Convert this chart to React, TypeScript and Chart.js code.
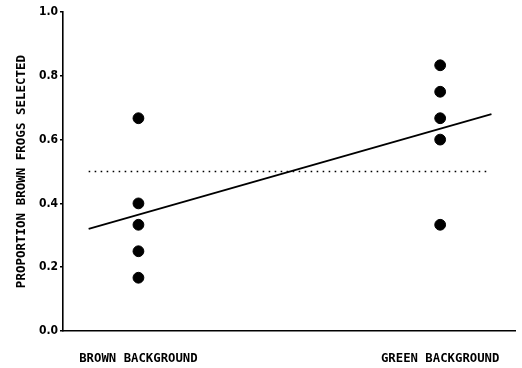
import React, { useEffect, useRef } from "react";
import { Chart, registerables } from "chart.js";

Chart.register(...registerables);

const categories = ["BROWN BACKGROUND", "GREEN BACKGROUND"];
const categoryX = [1, 5];
const brownValues = [0.667, 0.4, 0.333, 0.25, 0.167];
const greenValues = [0.833, 0.75, 0.667, 0.6, 0.333];
const fitX = [0.34, 5.68];
const fitY = [0.32, 0.68];
const chanceX = [0.34, 5.66];
const chanceY = [0.5, 0.5];
const yTickValues = [0, 0.2, 0.4, 0.6, 0.8, 1.0];
const yTitle = "PROPORTION BROWN FROGS SELECTED";

const TICK_FONT = "'DejaVu Sans Condensed', 'DejaVu Sans', sans-serif";
const LABEL_FONT = "'DejaVu Sans Mono', monospace";

export default function App() {
  const ref = useRef<HTMLCanvasElement | null>(null);

  useEffect(() => {
    document.body.style.margin = "0";
    const canvas = ref.current;
    if (!canvas) return;
    const points = [
      ...brownValues.map((v) => ({ x: categoryX[0], y: v })),
      ...greenValues.map((v) => ({ x: categoryX[1], y: v })),
    ];
    const chart = new Chart(canvas, {
      type: "scatter",
      data: {
        datasets: [
          {
            type: "line",
            data: chanceX.map((x, i) => ({ x, y: chanceY[i] })),
            borderColor: "#000",
            borderWidth: 1.6,
            borderDash: [1.6, 4.4],
            borderCapStyle: "butt",
            pointRadius: 0,
            fill: false,
          },
          {
            type: "line",
            data: fitX.map((x, i) => ({ x, y: fitY[i] })),
            borderColor: "#000",
            borderWidth: 1.8,
            pointRadius: 0,
            fill: false,
          },
          {
            data: points,
            backgroundColor: "#000",
            borderColor: "#000",
            pointRadius: 5.4,
            pointHoverRadius: 5.4,
          },
        ],
      } as any,
      options: {
        animation: false,
        responsive: false,
        events: [],
        layout: { padding: { top: 12, right: 2, left: 0, bottom: 0 } },
        plugins: { legend: { display: false }, tooltip: { enabled: false } },
        scales: {
          x: {
            type: "linear",
            min: 0,
            max: 6,
            grid: { display: false, drawTicks: false, tickLength: 0 },
            border: { display: true, color: "#000", width: 1.6 },
            afterBuildTicks: (scale: any) => {
              scale.ticks = categoryX.map((v) => ({ value: v }));
            },
            afterFit: (scale: any) => {
              scale.height = 37;
              scale.paddingLeft = 0;
              scale.paddingRight = 0;
            },
            ticks: {
              padding: 20,
              maxRotation: 0,
              autoSkip: false,
              color: "#000",
              font: { family: LABEL_FONT, size: 12.3, weight: "bold" },
              callback: (v: any) => categories[categoryX.indexOf(Number(v))],
            },
          },
          y: {
            type: "linear",
            min: 0,
            max: 1,
            afterBuildTicks: (scale: any) => {
              scale.ticks = yTickValues.map((v) => ({ value: v }));
            },
            afterFit: (scale: any) => {
              scale.width = 63;
              scale.paddingTop = 0;
              scale.paddingBottom = 0;
            },
            grid: {
              drawOnChartArea: false,
              drawTicks: true,
              tickLength: 3,
              color: "#000",
              lineWidth: 1.5,
            },
            border: { display: true, color: "#000", width: 1.6 },
            title: {
              display: true,
              text: yTitle,
              color: "#000",
              padding: { top: 14.5, bottom: 0 },
              font: { family: LABEL_FONT, size: 12.5, weight: "bold" },
            },
            ticks: {
              padding: 2,
              color: "#000",
              font: { family: TICK_FONT, size: 12, weight: "bold" },
              callback: (v: any) => Number(v).toFixed(1),
            },
          },
        },
      } as any,
    });
    return () => chart.destroy();
  }, []);

  return (
    <div style={{ width: 522, height: 368 }}>
      <canvas ref={ref} width={522} height={368} style={{ display: "block" }} />
    </div>
  );
}
